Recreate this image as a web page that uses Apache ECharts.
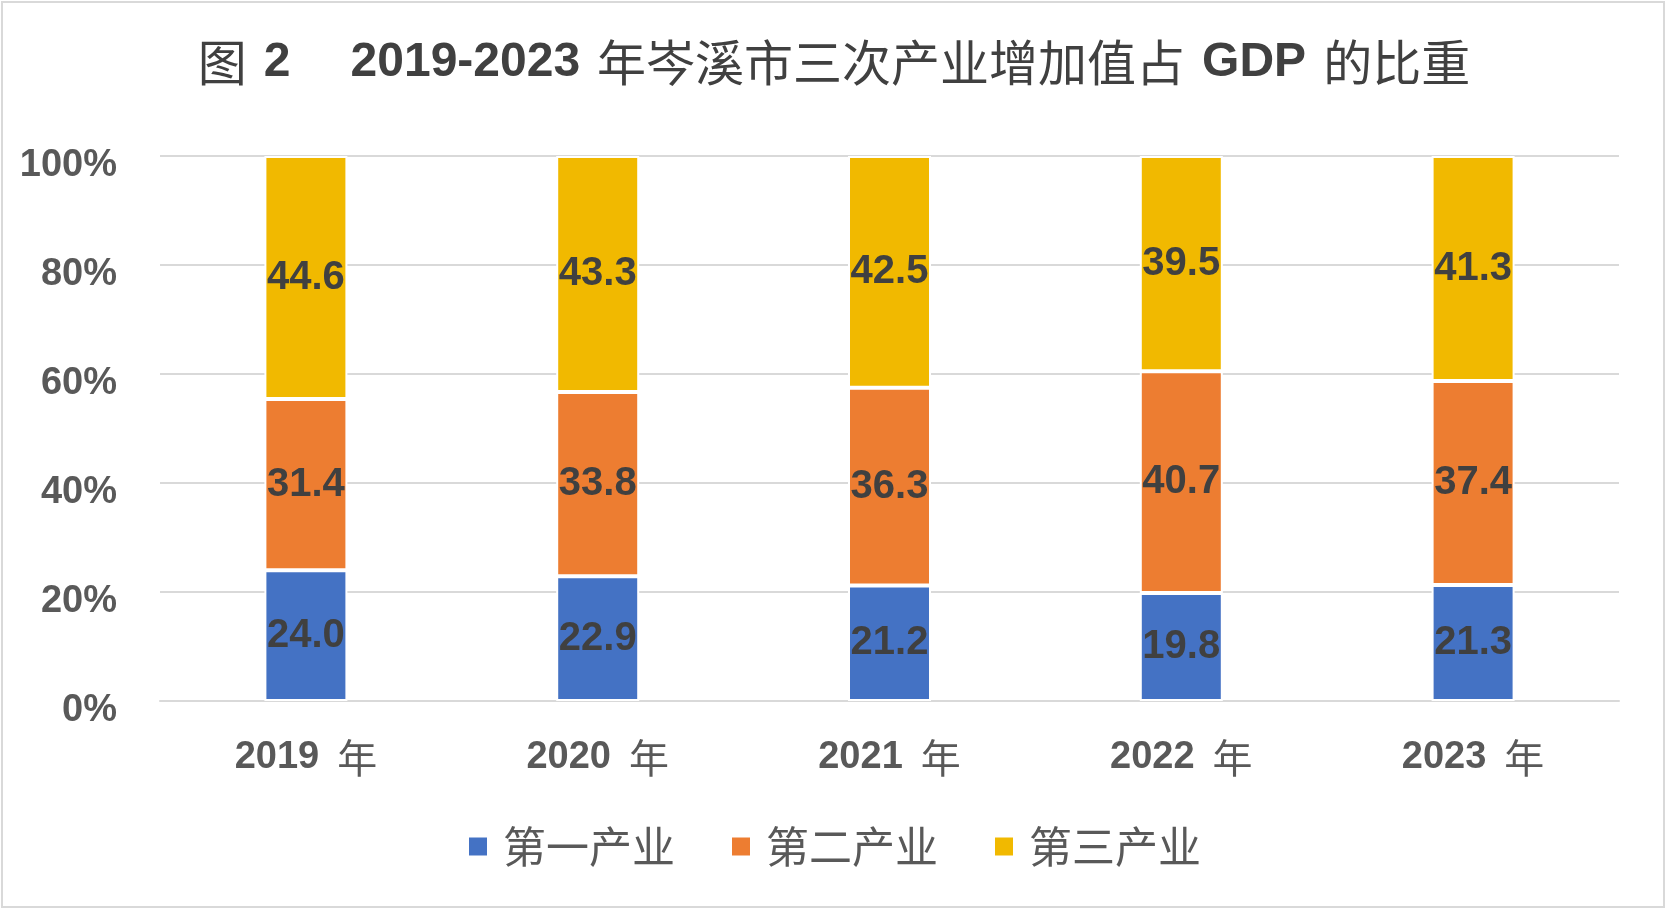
<!DOCTYPE html>
<html>
<head>
<meta charset="utf-8">
<script src="https://cdn.jsdelivr.net/npm/echarts@6/dist/echarts.min.js"></script>
<style>
  html, body { margin: 0; padding: 0; background: #fff; }
  #chart { width: 1668px; height: 913px; }
</style>
</head>
<body>
<div id="chart"></div>
<script>
const years = ['2019', '2020', '2021', '2022', '2023'];
const seriesNames = ['第一产业', '第二产业', '第三产业'];
const primary = [24.0, 22.9, 21.2, 19.8, 21.3];
const secondary = [31.4, 33.8, 36.3, 40.7, 37.4];
const tertiary = [44.6, 43.3, 42.5, 39.5, 41.3];
const yTicks = [0, 20, 40, 60, 80, 100];

const colors = ['#4472C4', '#ED7D31', '#F1B900'];
const numFont = "'Liberation Sans', Arial, sans-serif";
const cjkFont = "'Noto Sans CJK SC', sans-serif";

function makeSeries(name, data, color) {
  return {
    name: name,
    type: 'bar',
    stack: 'total',
    barWidth: 83,
    data: data,
    itemStyle: { color: color, borderColor: '#fff', borderWidth: 2 },
    label: {
      show: true,
      position: 'inside',
      formatter: p => p.value.toFixed(1),
      fontFamily: numFont,
      fontWeight: 'bold',
      fontSize: 40,
      color: '#404040',
      padding: [8, 0, 0, 0]
    }
  };
}

const chart = echarts.init(document.getElementById('chart'));
chart.setOption({
  animation: false,
  title: {
    text: '{c|图}{n1|2}{n2|2019-2023}{c1|年岑溪市三次产业增加值占}{n1|GDP}{c1|的比重}',
    left: 'center',
    top: 33,
    textStyle: {
      rich: {
        c: { fontFamily: cjkFont, fontSize: 49, color: '#404040', fontWeight: 'normal' },
        c1: { fontFamily: cjkFont, fontSize: 49, color: '#404040', fontWeight: 'normal', padding: [0, 0, 0, 17] },
        n1: { fontFamily: numFont, fontSize: 48, color: '#404040', fontWeight: 'bold', padding: [0, 0, 0, 17] },
        n2: { fontFamily: numFont, fontSize: 48, color: '#404040', fontWeight: 'bold', padding: [0, 0, 0, 60] }
      }
    }
  },
  legend: {
    bottom: 40,
    left: 'center',
    itemWidth: 20,
    itemHeight: 20,
    itemGap: 55,
    icon: 'rect',
    data: seriesNames,
    textStyle: {
      fontFamily: cjkFont,
      fontSize: 43,
      color: '#595959',
      padding: [0, 0, 0, 10]
    }
  },
  grid: { left: 160, right: 49, top: 156, bottom: 212 },
  xAxis: {
    type: 'category',
    data: years,
    axisTick: { show: false },
    axisLine: { lineStyle: { color: '#D9D9D9', width: 2 } },
    axisLabel: {
      margin: 37,
      formatter: v => '{n|' + v + '}{c|年}',
      rich: {
        n: { fontFamily: numFont, fontSize: 38, fontWeight: 'bold', color: '#595959' },
        c: { fontFamily: cjkFont, fontSize: 40, color: '#595959', padding: [0, 0, 0, 18] }
      }
    }
  },
  yAxis: {
    type: 'value',
    min: yTicks[0],
    max: yTicks[yTicks.length - 1],
    interval: 20,
    axisLine: { show: false },
    axisTick: { show: false },
    splitLine: { lineStyle: { color: '#D9D9D9', width: 2 } },
    axisLabel: {
      margin: 43,
      formatter: v => v + '%',
      fontFamily: numFont,
      fontWeight: 'bold',
      fontSize: 38,
      color: '#595959',
      verticalAlign: 'top',
      lineHeight: 20
    }
  },
  graphic: [{
    type: 'rect',
    shape: { x: 2, y: 2, width: 1662, height: 905 },
    style: { fill: 'none', stroke: '#D9D9D9', lineWidth: 2 },
    silent: true
  }],
  series: [
    makeSeries(seriesNames[0], primary, colors[0]),
    makeSeries(seriesNames[1], secondary, colors[1]),
    makeSeries(seriesNames[2], tertiary, colors[2])
  ]
});
</script>
</body>
</html>
